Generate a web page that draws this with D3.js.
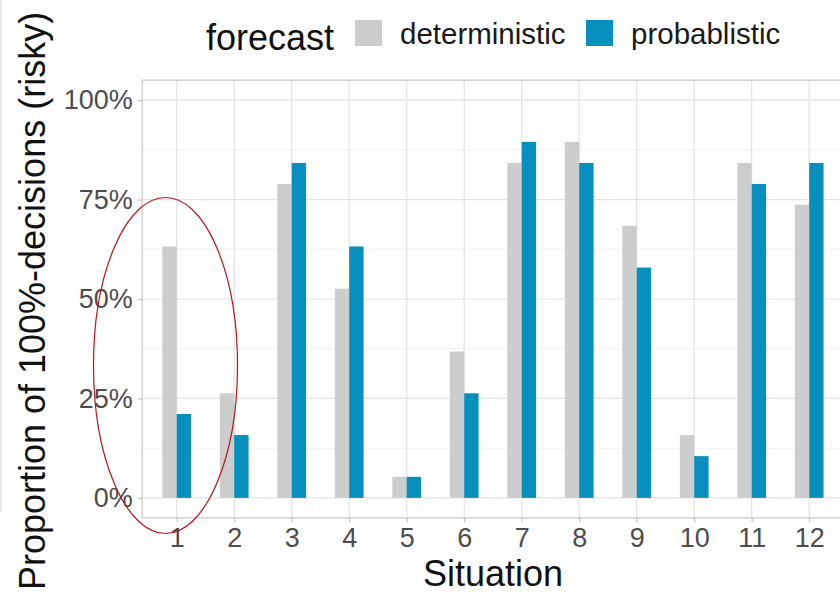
<!DOCTYPE html>
<html>
<head>
<meta charset="utf-8">
<script src="https://cdn.jsdelivr.net/npm/d3@7"></script>
<style>
  body { margin: 0; background: #fff; }
  svg { display: block; font-family: "Liberation Sans", Arial, sans-serif; }
</style>
</head>
<body>
<svg width="840" height="595"></svg>
<script>
// situations 1..12
var situations = [1, 2, 3, 4, 5, 6, 7, 8, 9, 10, 11, 12];
var deterministic = [0.632, 0.263, 0.789, 0.526, 0.053, 0.368, 0.842, 0.895, 0.684, 0.158, 0.842, 0.737];
var probablistic  = [0.211, 0.158, 0.842, 0.632, 0.053, 0.263, 0.895, 0.842, 0.579, 0.105, 0.789, 0.842];
var yTicks = [0, 0.25, 0.5, 0.75, 1];
var yMinor = [0.125, 0.375, 0.625, 0.875];
var seriesNames = ["deterministic", "probablistic"];
var seriesColors = ["#cdcdcd", "#0790bd"];

var svg = d3.select("svg");

var x = d3.scaleLinear().domain([0.4, 12.6]).range([142.2, 843.7]);
var y = d3.scaleLinear().domain([-0.05, 1.05]).range([517.8, 80.2]);

var panelTop = y(1.05), panelBottom = y(-0.05), panelLeft = x(0.4), panelRight = x(12.6);

// faint line at the left edge (cropped neighbour)
svg.append("line")
  .attr("x1", 1).attr("x2", 1).attr("y1", 0).attr("y2", 512)
  .attr("stroke", "#dcdcdc").attr("stroke-width", 1.2);

// grid
var grid = svg.append("g");
grid.selectAll(".minor").data(yMinor).enter().append("line")
  .attr("x1", panelLeft).attr("x2", panelRight)
  .attr("y1", d => y(d)).attr("y2", d => y(d))
  .attr("stroke", "#efefef").attr("stroke-width", 1);
grid.selectAll(".hmajor").data(yTicks).enter().append("line")
  .attr("x1", panelLeft).attr("x2", panelRight)
  .attr("y1", d => y(d)).attr("y2", d => y(d))
  .attr("stroke", "#e3e3e3").attr("stroke-width", 1.2);
grid.selectAll(".vmajor").data(situations).enter().append("line")
  .attr("x1", d => x(d)).attr("x2", d => x(d))
  .attr("y1", panelTop).attr("y2", panelBottom)
  .attr("stroke", "#e3e3e3").attr("stroke-width", 1.2);

// bars
var barW = x(0.25) - x(0);
var rows = situations.map(function(s, i) {
  return [
    {s: s, k: 0, v: deterministic[i]},
    {s: s, k: 1, v: probablistic[i]}
  ];
}).flat();

svg.append("g").selectAll("rect").data(rows).enter().append("rect")
  .attr("x", d => x(d.s - 0.25 + d.k * 0.25))
  .attr("width", barW)
  .attr("y", d => y(d.v))
  .attr("height", d => y(0) - y(d.v))
  .attr("fill", d => seriesColors[d.k]);

// panel border
svg.append("rect")
  .attr("x", panelLeft).attr("y", panelTop)
  .attr("width", panelRight - panelLeft).attr("height", panelBottom - panelTop)
  .attr("fill", "none").attr("stroke", "#cccccc").attr("stroke-width", 1.3);

// axes
var yAxis = svg.append("g")
  .attr("transform", "translate(" + panelLeft + ",0)")
  .call(d3.axisLeft(y).tickValues(yTicks).tickFormat(d3.format(".0%")).tickSize(4.5).tickPadding(5));
var xAxis = svg.append("g")
  .attr("transform", "translate(0," + panelBottom + ")")
  .call(d3.axisBottom(x).tickValues(situations).tickFormat(d3.format("d")).tickSize(4.5).tickPadding(5.5));

[yAxis, xAxis].forEach(function(a) {
  a.select(".domain").remove();
  a.selectAll(".tick line").attr("stroke", "#c4c4c4").attr("stroke-width", 1.2);
  a.selectAll(".tick text")
    .attr("fill", "#4d4d4d")
    .style("font-size", "27px")
    .style("font-family", "'Liberation Sans', Arial, sans-serif");
});

// axis titles
svg.append("text")
  .attr("x", x(6.5)).attr("y", 586)
  .attr("text-anchor", "middle")
  .style("font-size", "36px").attr("fill", "#111")
  .text("Situation");

svg.append("text")
  .attr("transform", "translate(45,301) rotate(-90)")
  .attr("text-anchor", "middle")
  .style("font-size", "36px").attr("fill", "#111")
  .text("Proportion of 100%-decisions (risky)");

// legend
var legend = svg.append("g");
legend.append("text")
  .attr("x", 206).attr("y", 50)
  .style("font-size", "36px").attr("fill", "#111")
  .text("forecast");
var keyX = [355, 586];
seriesNames.forEach(function(name, i) {
  legend.append("rect")
    .attr("x", keyX[i]).attr("y", 20).attr("width", 27).attr("height", 26)
    .attr("fill", seriesColors[i]);
  legend.append("text")
    .attr("x", keyX[i] + 45).attr("y", 44)
    .style("font-size", "29.5px").attr("fill", "#1a1a1a")
    .text(name);
});

// red ellipse annotation around situations 1-2
svg.append("ellipse")
  .attr("cx", 165.5).attr("cy", 365.5)
  .attr("rx", 72).attr("ry", 168)
  .attr("fill", "none").attr("stroke", "#b5161b").attr("stroke-width", 1.2);
</script>
</body>
</html>
